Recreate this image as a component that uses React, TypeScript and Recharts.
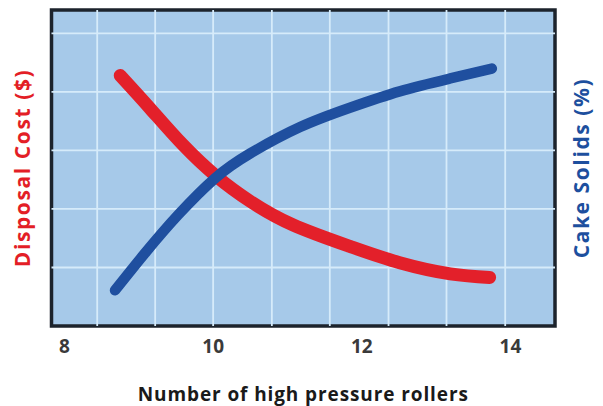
import React from 'react';
import { LineChart, Line, XAxis, YAxis, ReferenceLine, ReferenceArea, CartesianGrid } from 'recharts';

const rollerTicks = [8, 10, 12, 14];

const costRollers = [8.75, 9.15, 9.59, 10.05, 10.5, 11.07, 11.84, 12.51, 13.19, 13.72];
const costValues = [4.28, 3.72, 3.1, 2.55, 2.13, 1.73, 1.36, 1.08, 0.89, 0.83];

const solidsRollers = [8.68, 9.08, 9.53, 10.03, 10.5, 11.17, 11.84, 12.51, 13.19, 13.75];
const solidsValues = [0.61, 1.24, 1.9, 2.53, 2.95, 3.4, 3.73, 4.01, 4.23, 4.4];

const gridX = [8.44, 9.22, 10.0, 10.79, 11.57, 12.36, 13.14, 13.93];
const gridY = [1, 2, 3, 4, 5];

const X_DOMAIN: [number, number] = [7.825, 14.6];
const Y_DOMAIN: [number, number] = [0, 5.4];

const costData = costRollers.map((x, i) => ({ x, cost: costValues[i] }));
const solidsData = solidsRollers.map((x, i) => ({ x, solids: solidsValues[i] }));

const FONT = '"Open Sans", "Noto Sans", sans-serif';

export default function App() {
  return (
    <div style={{ position: 'absolute', left: 0, top: 0, width: 603, height: 406, background: '#ffffff' }}>
      <LineChart width={603} height={406} margin={{ top: 10, right: 0, bottom: 0, left: 0 }}>
        <CartesianGrid fill="#a6c9e9" stroke="none" horizontal={false} vertical={false} />
        <XAxis
          type="number"
          dataKey="x"
          domain={X_DOMAIN}
          ticks={rollerTicks}
          allowDataOverflow
          height={80}
          axisLine={false}
          tickLine={false}
          tickMargin={8}
          tick={{ fontSize: 19, fontWeight: 700, fill: '#3a3a3a', fontFamily: FONT }}
          label={{
            value: 'Number of high pressure rollers',
            position: 'insideBottom',
            offset: 5,
            style: { fontSize: 19, fontWeight: 700, fill: '#1a1a1a', fontFamily: FONT, letterSpacing: 0.9 },
          }}
        />
        <YAxis
          yAxisId="left"
          type="number"
          domain={Y_DOMAIN}
          width={51.5}
          tick={false}
          axisLine={false}
          tickLine={false}
          label={{
            value: 'Disposal Cost ($)',
            angle: -90,
            position: 'insideLeft',
            offset: 23,
            style: { fontSize: 21, fontWeight: 700, fill: '#e31e26', fontFamily: FONT, textAnchor: 'middle', letterSpacing: 1.6 },
          }}
        />
        <YAxis
          yAxisId="right"
          orientation="right"
          type="number"
          domain={Y_DOMAIN}
          width={48}
          tick={false}
          axisLine={false}
          tickLine={false}
          label={{
            value: 'Cake Solids (%)',
            angle: -90,
            position: 'insideRight',
            offset: 21,
            style: { fontSize: 21, fontWeight: 700, fill: '#1d4f9e', fontFamily: FONT, textAnchor: 'middle', letterSpacing: 1.6 },
          }}
        />
        {gridX.map((g) => (
          <ReferenceLine key={'gx' + g} x={g} yAxisId="left" stroke="#d6ebfa" strokeWidth={1.8} />
        ))}
        {gridY.map((g) => (
          <ReferenceLine key={'gy' + g} y={g} yAxisId="left" stroke="#d6ebfa" strokeWidth={1.8} />
        ))}
        <Line
          data={costData}
          yAxisId="left"
          dataKey="cost"
          type="natural"
          stroke="#e3202a"
          strokeWidth={13}
          strokeLinecap="round"
          dot={false}
          activeDot={false}
          isAnimationActive={false}
        />
        <Line
          data={solidsData}
          yAxisId="right"
          dataKey="solids"
          type="natural"
          stroke="#1f4f9f"
          strokeWidth={10.5}
          strokeLinecap="round"
          dot={false}
          activeDot={false}
          isAnimationActive={false}
        />
        <ReferenceArea
          yAxisId="left"
          x1={X_DOMAIN[0]}
          x2={X_DOMAIN[1]}
          y1={Y_DOMAIN[0]}
          y2={Y_DOMAIN[1]}
          fill="none"
          fillOpacity={0}
          stroke="#1c232c"
          strokeWidth={3.5}
        />
      </LineChart>
    </div>
  );
}
